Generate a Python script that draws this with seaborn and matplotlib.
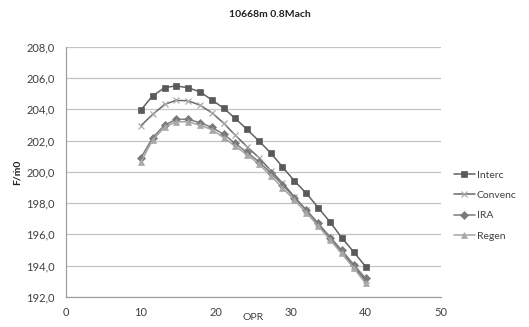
import matplotlib
matplotlib.use("Agg")
import matplotlib.pyplot as plt
import matplotlib.ticker as mticker
import numpy as np
import pandas as pd
import seaborn as sns

# Overall pressure ratio sweep
opr = [10.0, 11.6, 13.2, 14.7, 16.3, 17.9, 19.5, 21.1, 22.6, 24.2,
       25.8, 27.4, 28.9, 30.5, 32.1, 33.7, 35.3, 36.8, 38.4, 40.0]

# Specific thrust F/m0 per cycle
interc = [203.93, 204.86, 205.38, 205.50, 205.38, 205.12, 204.60, 204.06, 203.42, 202.71,
          201.96, 201.18, 200.32, 199.42, 198.62, 197.70, 196.76, 195.80, 194.88, 193.94]
convenc = [202.94, 203.67, 204.31, 204.57, 204.55, 204.27, 203.78, 203.10, 202.35, 201.60,
           200.90, 200.05, 199.30, 198.40, 197.55, 196.65, 195.75, 194.90, 193.95, 193.05]
ira = [200.86, 202.18, 202.99, 203.35, 203.37, 203.14, 202.85, 202.39, 201.82, 201.24,
       200.64, 199.90, 199.19, 198.34, 197.55, 196.70, 195.80, 194.99, 194.07, 193.18]
regen = [200.60, 202.03, 202.86, 203.20, 203.20, 202.99, 202.70, 202.18, 201.64, 201.10,
         200.49, 199.73, 198.98, 198.19, 197.38, 196.52, 195.63, 194.78, 193.86, 192.86]

series_names = ["Interc", "Convenc", "IRA", "Regen"]
x_ticks = [0, 10, 20, 30, 40, 50]
y_ticks = [192, 194, 196, 198, 200, 202, 204, 206, 208]

sns.set_theme(style="white")
plt.rcParams["font.family"] = ["Lato", "DejaVu Sans"]

fig = plt.figure(figsize=(5.29, 3.27), dpi=100)
ax = fig.add_axes([0.124, 0.092, 0.709, 0.765])

styles = {
    "Interc": dict(color="#626262", marker="s", markersize=4.8, mfc="#5a5a5a", mec="#5a5a5a"),
    "Convenc": dict(color="#6a6a6a", marker="x", markersize=5.0, mfc="#acacac", mec="#acacac", mew=0.9),
    "IRA": dict(color="#7c7c7c", marker="D", markersize=4.0, mfc="#7a7a7a", mec="#7a7a7a"),
    "Regen": dict(color="#a4a4a4", marker="^", markersize=5.0, mfc="#a8a8a8", mec="#a8a8a8"),
}

for name, vals in zip(series_names, [interc, convenc, ira, regen]):
    df = pd.DataFrame({"OPR": opr, "F": vals})
    st = styles[name]
    sns.lineplot(data=df, x="OPR", y="F", ax=ax, color=st["color"], lw=1.1,
                 marker=st["marker"], markersize=st["markersize"],
                 markerfacecolor=st["mfc"], markeredgecolor=st["mec"],
                 markeredgewidth=st.get("mew", 0.5), label=name)

ax.set_xlim(0, 50)
ax.set_ylim(192, 208)
ax.set_xticks(x_ticks)
ax.set_yticks(y_ticks)
ax.yaxis.set_major_formatter(mticker.FuncFormatter(lambda v, p: f"{v:.1f}".replace(".", ",")))
ax.grid(axis="y", color="#c4c4c4", lw=0.9)
ax.grid(axis="x", visible=False)
for s in ["top", "right"]:
    ax.spines[s].set_visible(False)
for s in ["left", "bottom"]:
    ax.spines[s].set_color("#a0a0a0")
    ax.spines[s].set_linewidth(0.9)
ax.tick_params(axis="both", which="major", labelsize=8, colors="#404040",
               length=4, width=0.8, direction="out", pad=4)
ax.tick_params(axis="both", color="#a0a0a0")
ax.tick_params(axis="x", pad=3)

ax.set_xlabel("OPR", fontsize=7.5, color="#404040", labelpad=-3)
ax.set_ylabel("F/ṁ0", fontsize=7.5, fontweight="bold", color="#202020", labelpad=3)

fig.text(0.51, 0.955, "10668m 0.8Mach", ha="center", va="center",
         fontsize=7.5, fontweight="bold", color="#202020")

ax.legend(loc="center left", bbox_to_anchor=(1.01, 0.365), frameon=False,
          fontsize=7.5, handlelength=2.0, handletextpad=0.2, labelspacing=1.05,
          labelcolor="#404040")

fig.savefig("out.png", dpi=100)
